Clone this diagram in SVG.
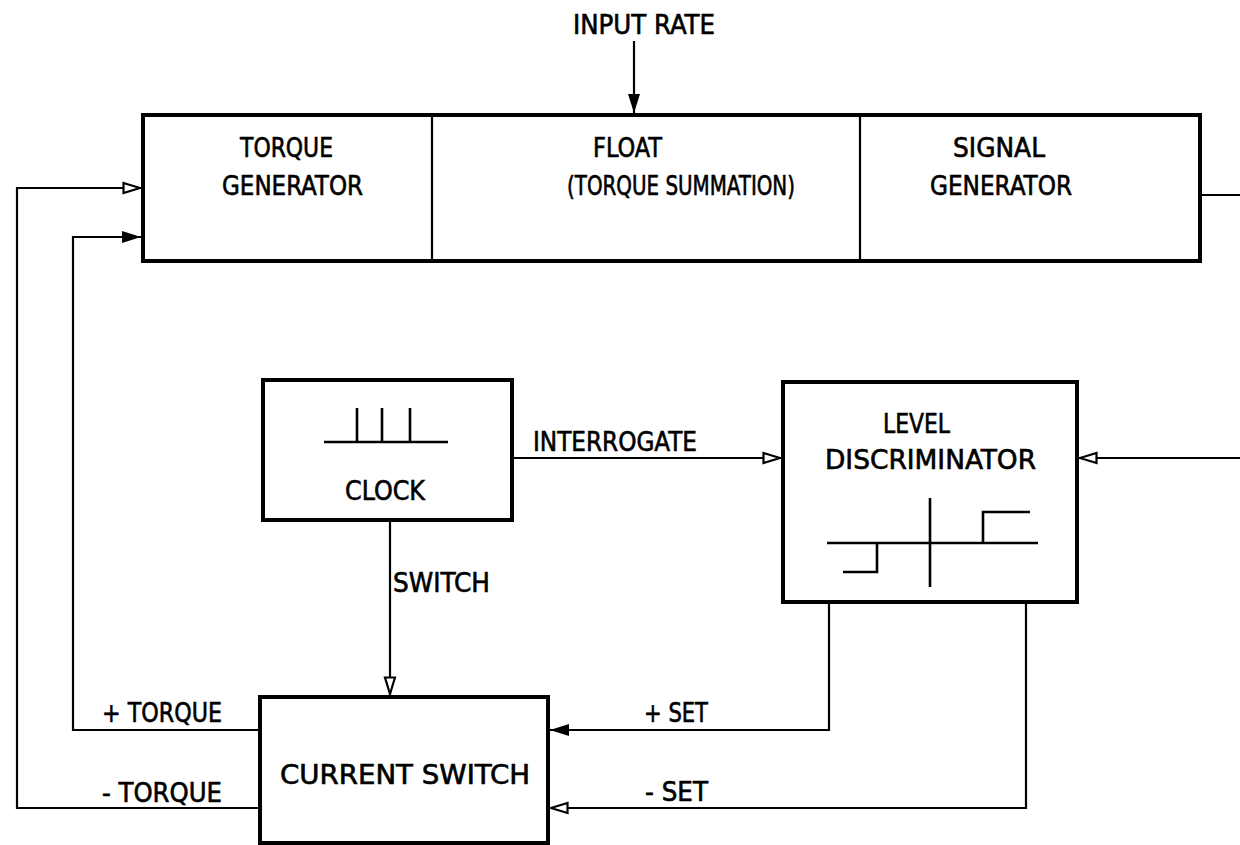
<svg xmlns="http://www.w3.org/2000/svg" width="1240" height="845" viewBox="0 0 1240 845">
<defs>
<style>
text{font-family:"DejaVu Sans Condensed","DejaVu Sans","Liberation Sans",sans-serif;font-stretch:condensed;font-size:27px;fill:#000;stroke:#000;stroke-width:0.6}
.box{fill:#fff;stroke:#000;stroke-width:4}
.ln{fill:none;stroke:#000;stroke-width:2.2}
.sym{fill:none;stroke:#000;stroke-width:2.6}
</style>
<marker id="af" markerWidth="20" markerHeight="14" refX="19" refY="7" orient="auto" markerUnits="userSpaceOnUse">
<path d="M0,1 L19,7 L0,13 Z" fill="#000"/>
</marker>
<marker id="ao" markerWidth="20" markerHeight="14" refX="19" refY="7" orient="auto" markerUnits="userSpaceOnUse">
<path d="M1.5,2 L18,7 L1.5,12 Z" fill="#fff" stroke="#000" stroke-width="2.2"/>
</marker>
</defs>
<rect width="1240" height="845" fill="#fff"/>
<g id="connectors">
<line class="ln" x1="634" y1="41" x2="634" y2="113" marker-end="url(#af)"/>
<polyline class="ln" points="1200,195 1240,195"/>
<polyline class="ln" points="260,808 17,808 17,188 141,188" marker-end="url(#ao)"/>
<polyline class="ln" points="260,730 73,730 73,237 141,237" marker-end="url(#af)"/>
<line class="ln" x1="512" y1="458" x2="781" y2="458" marker-end="url(#ao)"/>
<line class="ln" x1="1240" y1="458" x2="1079" y2="458" marker-end="url(#ao)"/>
<line class="ln" x1="390" y1="520" x2="390" y2="695" marker-end="url(#ao)"/>
<polyline class="ln" points="829,602 829,730 550,730" marker-end="url(#af)"/>
<polyline class="ln" points="1026,602 1026,808 550,808" marker-end="url(#ao)"/>
<text x="533" y="451" textLength="164" lengthAdjust="spacingAndGlyphs">INTERROGATE</text>
<text x="393" y="592" textLength="97" lengthAdjust="spacingAndGlyphs">SWITCH</text>
<text x="102" y="722" textLength="120" lengthAdjust="spacingAndGlyphs">+ TORQUE</text>
<text x="102" y="802" textLength="120" lengthAdjust="spacingAndGlyphs">- TORQUE</text>
<text x="644" y="722" textLength="64" lengthAdjust="spacingAndGlyphs">+ SET</text>
<text x="645" y="801" textLength="63" lengthAdjust="spacingAndGlyphs">- SET</text>
<text x="573" y="34" textLength="142" lengthAdjust="spacingAndGlyphs">INPUT RATE</text>
</g>
<g id="top-box">
<rect class="box" x="143" y="115" width="1057" height="146"/>
<line class="ln" x1="432" y1="115" x2="432" y2="261"/>
<line class="ln" x1="860" y1="115" x2="860" y2="261"/>
</g>
<g id="torque-generator">
<text x="240" y="157" textLength="93" lengthAdjust="spacingAndGlyphs">TORQUE</text>
<text x="222" y="195" textLength="141" lengthAdjust="spacingAndGlyphs">GENERATOR</text>
</g>
<g id="float">
<text x="593" y="157" textLength="69" lengthAdjust="spacingAndGlyphs">FLOAT</text>
<text x="567" y="195" textLength="228" lengthAdjust="spacingAndGlyphs">(TORQUE SUMMATION)</text>
</g>
<g id="signal-generator">
<text x="953" y="157" textLength="92" lengthAdjust="spacingAndGlyphs">SIGNAL</text>
<text x="930" y="195" textLength="142" lengthAdjust="spacingAndGlyphs">GENERATOR</text>
</g>
<g id="clock">
<rect class="box" x="263" y="380" width="249" height="140"/>
<polyline class="sym" points="324,442 448,442"/>
<line class="sym" x1="357" y1="408" x2="357" y2="442"/>
<line class="sym" x1="382" y1="408" x2="382" y2="442"/>
<line class="sym" x1="410" y1="408" x2="410" y2="442"/>
<text x="345" y="500" textLength="80" lengthAdjust="spacingAndGlyphs">CLOCK</text>
</g>
<g id="level-discriminator">
<rect class="box" x="783" y="382" width="294" height="220"/>
<text x="883" y="433" textLength="67" lengthAdjust="spacingAndGlyphs">LEVEL</text>
<text x="825" y="469" textLength="211" lengthAdjust="spacingAndGlyphs">DISCRIMINATOR</text>
<line class="sym" x1="827" y1="543" x2="1038" y2="543"/>
<line class="sym" x1="930" y1="498" x2="930" y2="587"/>
<polyline class="sym" points="843,572 877,572 877,543"/>
<polyline class="sym" points="983,543 983,512 1030,512"/>
</g>
<g id="current-switch">
<rect class="box" x="260" y="697" width="288" height="146"/>
<text x="280" y="784" textLength="250" lengthAdjust="spacingAndGlyphs">CURRENT SWITCH</text>
</g>
</svg>
